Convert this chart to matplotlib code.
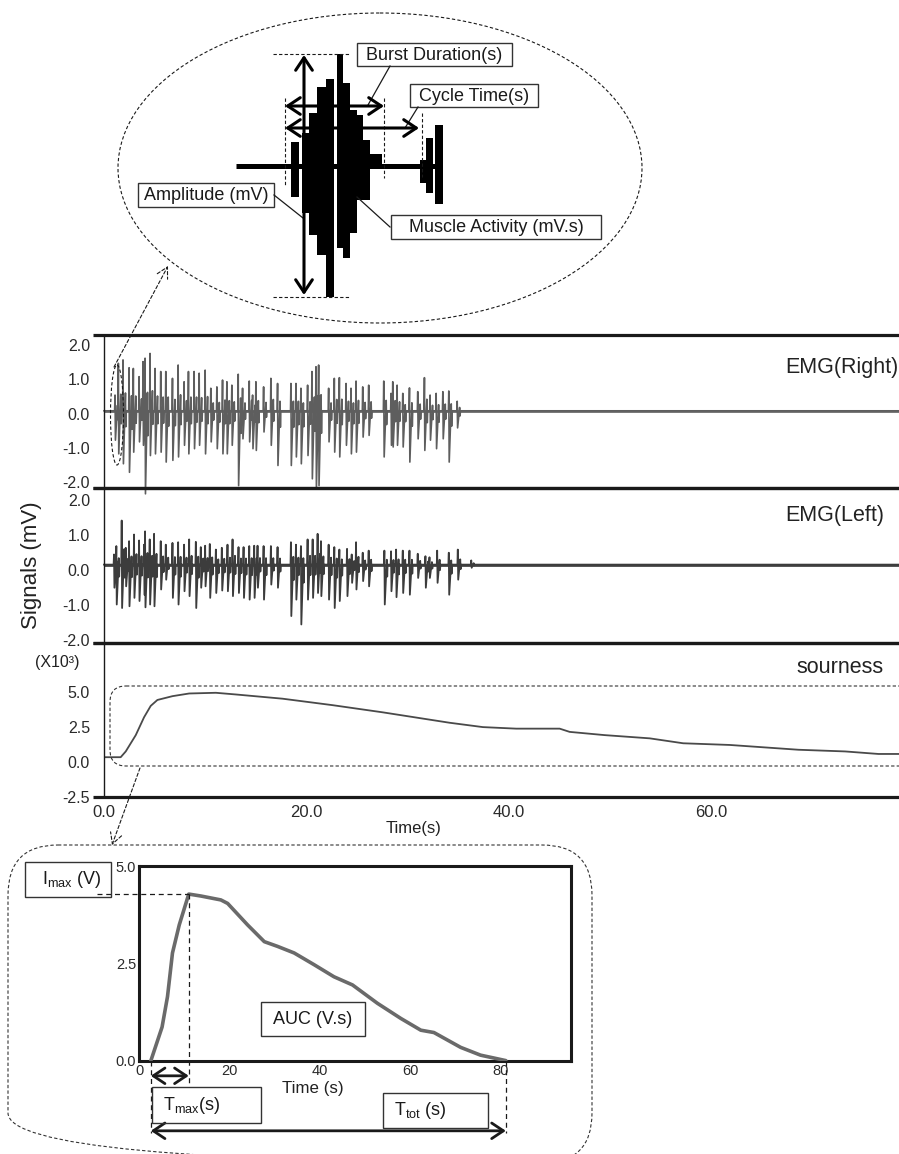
import matplotlib

matplotlib.use("Agg")
import matplotlib.pyplot as plt
import numpy as np
from matplotlib.patches import Ellipse, FancyBboxPatch, Rectangle

plt.rcParams["font.family"] = ["Liberation Sans", "DejaVu Sans"]
plt.rcParams["mathtext.fontset"] = "custom"
plt.rcParams["mathtext.rm"] = "Liberation Sans"

W, H = 899, 1154
INK = "#1a1a1a"
DASH = (0, (3, 2))

# EMG(Right): spike times (s), positive peak and negative peak (mV)
right_t = [1.09, 1.42, 1.88, 2.48, 2.90, 3.47, 3.86, 4.06, 4.55, 5.05, 5.61, 6.11, 6.77, 7.33, 7.92,
           8.35, 8.91, 9.41, 10.0, 10.56, 11.16, 11.72, 12.15, 12.64, 13.27, 13.70, 14.36, 14.69, 15.02,
           15.78, 16.50, 17.16, 18.48, 18.98, 19.47, 20.13, 20.56, 20.96, 21.22, 22.21, 22.77, 23.27,
           23.93, 24.42, 24.92, 25.58, 26.17, 27.66, 28.38, 28.55, 28.98, 29.54, 30.20, 31.02, 31.68,
           32.24, 32.84, 33.50, 34.09, 34.92]
right_top = [0.54, 1.47, 1.57, 1.34, 1.32, 1.08, 1.52, 1.62, 1.76, 1.32, 1.23, 1.23, 1.03, 1.42, 0.93,
             1.23, 1.23, 1.18, 1.27, 0.74, 0.78, 0.98, 0.93, 0.83, 1.15, 0.74, 0.95, 0.54, 0.93,
             0.78, 1.03, 0.88, 0.88, 0.88, 0.74, 0.83, 1.23, 1.37, 1.42, 0.74, 1.03, 1.05,
             0.88, 0.74, 0.95, 0.78, 0.83, 0.95, 0.59, 0.93, 0.83, 0.59, 0.75, 0.64, 1.05,
             0.54, 0.59, 0.64, 0.66, 0.36]
right_bot = [-0.78, -1.18, -1.47, -1.72, -1.13, -0.83, -0.93, -2.35, -1.23, -1.18, -1.13, -1.42, -1.37,
             -1.27, -0.93, -1.18, -1.03, -0.93, -1.18, -0.83, -1.03, -1.18, -1.18, -0.93, -2.11, -0.74,
             -0.83, -1.03, -1.08, -0.54, -0.93, -1.52, -1.52, -1.27, -1.47, -1.23, -1.91, -2.21, -2.11,
             -0.83, -1.13, -1.27, -0.93, -1.18, -1.13, -0.69, -0.64, -1.27, -0.93, -0.98, -0.93, -0.98,
             -1.42, -0.74, -1.08, -0.78, -1.03, -0.74, -1.42, -0.42]

# EMG(Left)
left_t = [0.99, 1.22, 1.75, 2.15, 2.48, 2.97, 3.47, 3.96, 4.06, 4.52, 4.95, 5.61, 6.11, 6.77, 7.33,
          7.92, 8.42, 9.08, 9.57, 10.0, 10.46, 11.06, 11.65, 12.21, 12.71, 13.30, 13.80, 14.36, 14.85,
          15.18, 15.78, 16.50, 17.16, 18.48, 18.98, 19.47, 20.13, 20.63, 21.12, 21.45, 22.21, 22.77,
          23.27, 24.03, 24.49, 24.92, 25.58, 26.17, 27.72, 28.38, 28.88, 29.54, 30.20, 31.02, 31.78,
          32.18, 32.94, 34.09, 34.98, 36.31]
left_top = [0.44, 0.68, 1.41, 0.63, 0.82, 1.01, 0.84, 0.72, 1.10, 0.87, 1.03, 0.82, 0.72, 0.77, 0.79,
            0.72, 0.87, 0.80, 0.65, 0.69, 0.74, 0.58, 0.63, 0.72, 0.87, 0.65, 0.65, 0.68, 0.69,
            0.69, 0.68, 0.68, 0.65, 0.79, 0.72, 0.68, 0.87, 0.87, 1.03, 0.82, 0.72, 0.65,
            0.58, 0.60, 0.44, 0.79, 0.49, 0.55, 0.55, 0.53, 0.58, 0.55, 0.55, 0.46, 0.39,
            0.36, 0.55, 0.49, 0.58, 0.27]
left_bot = [-0.51, -0.99, -1.09, -0.47, -1.04, -0.80, -0.89, -0.71, -1.07, -0.99, -1.04, -0.56, -0.28,
            -0.80, -0.99, -0.61, -0.75, -1.09, -0.51, -0.47, -0.80, -0.66, -0.59, -0.61, -0.75, -0.66,
            -0.80, -0.85, -0.80, -0.51, -0.85, -0.42, -0.51, -1.32, -0.85, -1.56, -0.85, -0.80, -0.66,
            -0.75, -0.85, -1.09, -0.89, -0.75, -0.37, -0.56, -0.32, -0.47, -0.99, -0.61, -0.78, -0.66,
            -0.71, -0.23, -0.51, -0.23, -0.37, -0.71, -0.28, 0.06]

# sourness (x10^3)
sour_t = [0, 1.65, 2.15, 3.14, 3.96, 4.62, 5.28, 6.77, 8.42, 11.06, 13.04, 17.65, 22.6, 27.56, 34.16,
          37.46, 40.76, 45.05, 46.04, 49.5, 53.96, 57.26, 61.88, 68.65, 73.27, 76.57, 78.6]
sour_v = [0.33, 0.33, 0.74, 1.90, 3.17, 3.98, 4.40, 4.67, 4.86, 4.91, 4.79, 4.49, 4.03, 3.52, 2.78,
          2.47, 2.36, 2.36, 2.13, 1.90, 1.67, 1.32, 1.20, 0.86, 0.74, 0.56, 0.56]

# time-intensity curve of the inset (V)
inset_t = [2.6, 5.1, 6.3, 7.4, 8.9, 11.0, 13.7, 18.1, 19.6, 24.0, 27.7, 30.6, 34.3, 38.7, 43.1,
           47.2, 52.7, 57.9, 62.3, 65.2, 71.1, 75.5, 81.1]
inset_v = [0.0, 0.87, 1.65, 2.77, 3.49, 4.28, 4.23, 4.13, 4.04, 3.49, 3.06, 2.94, 2.77, 2.47, 2.16,
           1.95, 1.48, 1.09, 0.79, 0.73, 0.35, 0.15, 0.01]

# schematic burst (pixel layout of the drawing in the top ellipse)
burst_left = [291, 301.7, 309.3, 317.3, 326, 336.7, 343.3, 350, 356.7, 363.3, 370, 420, 426, 435]
burst_right = [299.3, 309.3, 317.3, 326, 334, 343.3, 350, 356.7, 363.3, 370, 381.7, 426, 433.3, 442.7]
burst_top = [141.7, 133.3, 113.3, 87.3, 79.3, 54, 83.3, 110, 115, 140, 154, 160, 138.3, 125]
burst_bottom = [196.7, 213.3, 235, 255, 296.7, 248.3, 258.3, 233.3, 200, 200, 166.7, 183.3, 192.7, 204]


def spike_trace(times, tops, bots, base, t_end):
    xs, ys = [0.0], [base]
    for t, a, b in zip(times, tops, bots):
        xs += [t - 0.04, t, t + 0.04, t + 0.24, t + 0.28, t + 0.32]
        ys += [base, a, b, base + 0.35 * (a - base), base + 0.3 * (b - base), base]
    xs.append(t_end)
    ys.append(base)
    return xs, ys


def px_rect(left, top, right, bottom):
    return [left / W, 1 - bottom / H, (right - left) / W, (bottom - top) / H]


fig = plt.figure(figsize=(W / 100, H / 100), dpi=100)

ax_r = fig.add_axes(px_rect(104, 335, 899, 488))
ax_l = fig.add_axes(px_rect(104, 488, 899, 643))
ax_s = fig.add_axes(px_rect(104, 643, 899, 797))
ax_in = fig.add_axes(px_rect(139, 866, 571, 1061))

T_END = 78.6
for ax in (ax_r, ax_l, ax_s):
    ax.set_xlim(0, T_END)
    ax.patch.set_visible(False)
    for s in ("top", "bottom", "right"):
        ax.spines[s].set_visible(False)
    ax.spines["left"].set_linewidth(1.0)
    ax.spines["left"].set_color(INK)
    for yy in (0, 1):
        ax.plot([-0.014, 1], [yy, yy], transform=ax.transAxes, color=INK, lw=2.3,
                clip_on=False, solid_capstyle="butt", zorder=5)
    ax.tick_params(length=0, labelsize=11.5, labelcolor="#2a2a2a", pad=10)

xr, yr = spike_trace(right_t, right_top, right_bot, 0.08, T_END)
ax_r.plot([0, T_END], [0.08, 0.08], color="#6a6a6a", lw=2.0)
ax_r.plot(xr, yr, color="#5e5e5e", lw=1.2, clip_on=False)
ax_r.set_ylim(-2.18, 2.3)
ax_r.set_yticks([-2, -1, 0, 1, 2], ["-2.0", "-1.0", "0.0", "1.0", "2.0"])
ax_r.set_xticks([])
ax_r.text(0.999, 0.79, "EMG(Right)", transform=ax_r.transAxes, ha="right", va="center",
          fontsize=15.5, color="#222")

xl, yl = spike_trace(left_t, left_top, left_bot, 0.15, T_END)
ax_l.plot([0, T_END], [0.15, 0.15], color="#444444", lw=2.0)
ax_l.plot(xl, yl, color="#3c3c3c", lw=1.3, clip_on=False)
ax_l.set_ylim(-2.09, 2.34)
ax_l.set_yticks([-2, -1, 0, 1, 2], ["-2.0", "-1.0", "0.0", "1.0", "2.0"])
ax_l.set_xticks([])
ax_l.text(0.981, 0.82, "EMG(Left)", transform=ax_l.transAxes, ha="right", va="center",
          fontsize=15.5, color="#222")

ax_s.plot(sour_t, sour_v, color="#4a4a4a", lw=1.3)
ax_s.set_ylim(-2.5, 8.45)
ax_s.set_yticks([-2.5, 0, 2.5, 5.0], ["-2.5", "0.0", "2.5", "5.0"])
ax_s.set_xticks([0, 20, 40, 60], ["0.0", "20.0", "40.0", "60.0"])
ax_s.tick_params(axis="x", labelsize=12, pad=6)
ax_s.text(0.981, 0.844, "sourness", transform=ax_s.transAxes, ha="right", va="center",
          fontsize=15.5, color="#222")

# inset time-intensity plot
ax_in.plot(inset_t, inset_v, color="#6a6a6a", lw=2.6, solid_capstyle="round", zorder=3)
ax_in.set_xlim(0, 95.5)
ax_in.set_ylim(0, 5)
ax_in.set_xticks([0, 20, 40, 60, 80], ["0", "20", "40", "60", "80"])
ax_in.set_yticks([0, 2.5, 5.0], ["0.0", "2.5", "5.0"])
ax_in.tick_params(length=0, labelsize=10.5, labelcolor="#2a2a2a", pad=2)
for s in ax_in.spines.values():
    s.set_linewidth(2.2)
    s.set_color(INK)

k_peak = int(np.argmax(inset_v))
t0, tp, te = inset_t[0], inset_t[k_peak], inset_t[-1]
vp = inset_v[k_peak]
dash_kw = dict(color=INK, lw=0.9, ls=(0, (4, 3)), clip_on=False, zorder=4)
ax_in.plot([-9.3, tp], [vp, vp], **dash_kw)
ax_in.plot([tp, tp], [vp, -0.62], **dash_kw)
ax_in.plot([t0, t0], [0, -1.85], **dash_kw)
ax_in.plot([te, te], [0, -1.85], **dash_kw)
arrow_kw = dict(arrowstyle="<->,head_length=0.6,head_width=0.4", lw=2.0, color=INK,
                mutation_scale=14, shrinkA=0, shrinkB=0)
ax_in.annotate("", xy=(tp, -0.38), xytext=(t0, -0.38), arrowprops=arrow_kw, annotation_clip=False)
ax_in.annotate("", xy=(te, -1.79), xytext=(t0, -1.79), arrowprops=arrow_kw, annotation_clip=False)

# overlay in pixel units for the schematic decorations
ov = fig.add_axes([0, 0, 1, 1])
ov.set_xlim(0, W)
ov.set_ylim(H, 0)
ov.axis("off")

fig.text(32 / W, 1 - 565 / H, "Signals (mV)", rotation=90, ha="center", va="center",
         fontsize=16, color="#222")
ov.text(57, 662, "(X10³)", ha="center", va="center", fontsize=11.5, color="#222")
ov.text(414, 828, "Time(s)", ha="center", va="center", fontsize=12, color="#222")
ov.text(313, 1088, "Time (s)", ha="center", va="center", fontsize=12.2, color="#222")

thin = dict(color=INK, lw=0.8, ls=DASH)
ov.add_patch(Ellipse((380, 168), 524, 310, fill=False, ec=INK, lw=0.8, ls=DASH))
ov.add_patch(Ellipse((117, 415), 13, 100, fill=False, ec=INK, lw=0.8, ls=DASH))
ov.add_patch(FancyBboxPatch((110, 686), 830, 80, boxstyle="round,pad=0,rounding_size=16",
                            fill=False, ec="#333", lw=0.8, ls=DASH, clip_on=False))
ov.add_patch(FancyBboxPatch((8, 845), 584, 318, boxstyle="round,pad=0,rounding_size=50",
                            fill=False, ec="#333", lw=0.8, ls=DASH, clip_on=False))
link_kw = dict(arrowstyle="->,head_length=0.55,head_width=0.3", lw=0.8, ls=DASH, color=INK,
               mutation_scale=14, shrinkA=0, shrinkB=0)
ov.annotate("", xy=(168, 266), xytext=(114, 367), arrowprops=link_kw)
ov.annotate("", xy=(112, 845), xytext=(140, 768), arrowprops=link_kw)

# burst drawing
ov.plot([236, 437], [166, 166], color="black", lw=3.6, solid_capstyle="butt")
ov.bar(burst_left, np.subtract(burst_bottom, burst_top), bottom=burst_top,
       width=np.subtract(burst_right, burst_left), align="edge", color="black", lw=0)
ov.plot([273, 350], [54, 54], **thin)
ov.plot([273, 350], [297, 297], **thin)
ov.plot([285, 285], [98, 185], **thin)
ov.plot([384, 384], [98, 178], **thin)
ov.plot([422, 422], [113, 177], **thin)
big_arrow = dict(arrowstyle="<->,head_length=0.6,head_width=0.4", lw=2.2, color="black",
                 mutation_scale=15, shrinkA=0, shrinkB=0)
ov.annotate("", xy=(304, 295), xytext=(304, 55), arrowprops=big_arrow)
ov.annotate("", xy=(384, 106), xytext=(285, 106), arrowprops=big_arrow)
ov.annotate("", xy=(419, 128), xytext=(285, 128), arrowprops=big_arrow)

labels = [
    ("Burst Duration(s)", 357, 43, 512, 66, 13),
    ("Cycle Time(s)", 410, 84, 538, 107, 13),
    ("Amplitude (mV)", 138, 183, 274, 207, 13),
    ("Muscle Activity (mV.s)", 391, 215, 601, 239, 13),
]
for txt, x0, y0, x1, y1, fs in labels:
    ov.add_patch(Rectangle((x0, y0), x1 - x0, y1 - y0, fc="white", ec="#333", lw=1.0))
    ov.text((x0 + x1) / 2, (y0 + y1) / 2 + 1, txt, ha="center", va="center", fontsize=fs, color="#1a1a1a")
leader = dict(color=INK, lw=0.9)
ov.plot([390, 368], [66, 105], **leader)
ov.plot([418, 405], [107, 128], **leader)
ov.plot([274, 303], [195, 218], **leader)
ov.plot([390, 357], [227, 197], **leader)

inset_boxes = [
    (r"$\mathregular{I_{max}}$ (V)", 25, 862, 111, 897, 72),
    (r"$\mathregular{T_{max}}$(s)", 152, 1087, 261, 1123, 192),
    (r"$\mathregular{T_{tot}}$ (s)", 383, 1093, 488, 1128, 420),
    ("AUC (V.s)", 261, 1002, 365, 1036, 313),
]
for txt, x0, y0, x1, y1, xc in inset_boxes:
    ov.add_patch(Rectangle((x0, y0), x1 - x0, y1 - y0, fill=False, ec="#333", lw=1.0))
    ov.text(xc, (y0 + y1) / 2, txt, ha="center", va="center", fontsize=13, color="#1a1a1a")

fig.savefig("out.png", dpi=100)
